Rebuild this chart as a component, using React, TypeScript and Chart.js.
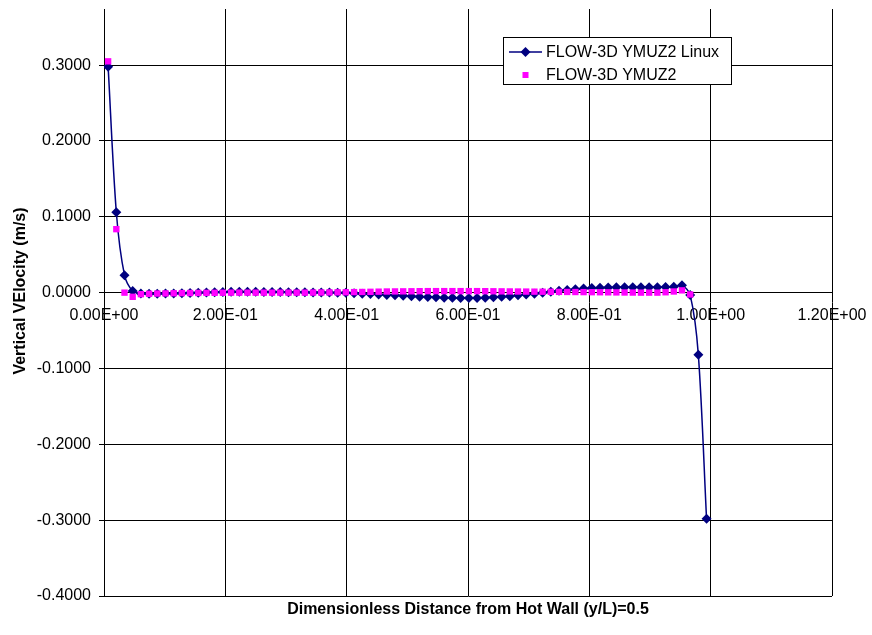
import { useEffect, useRef } from 'react';
import { Chart, registerables } from 'chart.js';

Chart.register(...registerables);

// Cell-centre positions y/L (74 cells)
const xPositions = [
  0.0068, 0.0203, 0.0338, 0.0473, 0.0608, 0.0743, 0.0878, 0.1014, 0.1149, 0.1284,
  0.1419, 0.1554, 0.1689, 0.1824, 0.1959, 0.2095, 0.2230, 0.2365, 0.2500, 0.2635,
  0.2770, 0.2905, 0.3041, 0.3176, 0.3311, 0.3446, 0.3581, 0.3716, 0.3851, 0.3986,
  0.4122, 0.4257, 0.4392, 0.4527, 0.4662, 0.4797, 0.4932, 0.5068, 0.5203, 0.5338,
  0.5473, 0.5608, 0.5743, 0.5878, 0.6014, 0.6149, 0.6284, 0.6419, 0.6554, 0.6689,
  0.6824, 0.6959, 0.7095, 0.7230, 0.7365, 0.7500, 0.7635, 0.7770, 0.7905, 0.8041,
  0.8176, 0.8311, 0.8446, 0.8581, 0.8716, 0.8851, 0.8986, 0.9122, 0.9257, 0.9392,
  0.9527, 0.9662, 0.9797, 0.9932,
];

// FLOW-3D YMUZ2 Linux (m/s)
const linuxValues = [
  0.298, 0.106, 0.023, 0.002,
  -0.0012, -0.0015, -0.0014, -0.0012, -0.001, -0.0007, -0.0004,
  0.0, 0.0003, 0.0006, 0.0009, 0.0011, 0.0012, 0.0012, 0.0011, 0.001, 0.0009,
  0.0008, 0.0006, 0.0005, 0.0004, 0.0003, 0.0002, 0.0001, 0.0,
  -0.0003, -0.0008, -0.0013, -0.0019, -0.0025, -0.003, -0.0036,
  -0.0042, -0.0048, -0.0053, -0.0058, -0.0062, -0.0066, -0.0069, -0.0071, -0.0071, -0.007,
  -0.0067, -0.0062, -0.0055, -0.0046, -0.0036,
  -0.0025, -0.0013, 0.0, 0.0012, 0.0024,
  0.0035, 0.0045, 0.0053, 0.006, 0.0065,
  0.0068, 0.007, 0.0071, 0.0072, 0.0072, 0.0072, 0.0072, 0.0073, 0.0078, 0.0099,
  -0.003, -0.082, -0.298,
];

// FLOW-3D YMUZ2 (m/s)
const ymuzValues = [
  0.305, 0.0837, 0.0, -0.0055,
  -0.002, -0.0015, -0.0012, -0.001, -0.0008, -0.0006, -0.0005,
  -0.0004, -0.0003, -0.0002, -0.0001, 0.0, 0.0, 0.0, 0.0, 0.0, 0.0,
  0.0, 0.0, 0.0, 0.0, 0.0001, 0.0002, 0.0003, 0.0004,
  0.0005, 0.0007, 0.0009, 0.0011, 0.0013, 0.0015, 0.0016,
  0.0017, 0.0018, 0.0019, 0.002, 0.002, 0.002, 0.002, 0.002, 0.002, 0.002,
  0.0019, 0.0018, 0.0017, 0.0016, 0.0015,
  0.0014, 0.0013, 0.0012, 0.0011, 0.001,
  0.0009, 0.0008, 0.0007, 0.0006, 0.0005,
  0.0004, 0.0003, 0.0002, 0.0001, 0.0, 0.0, 0.0, 0.0005, 0.0015,
  0.003, -0.0024,
];

const xTicks = [0, 0.2, 0.4, 0.6, 0.8, 1.0, 1.2];
const yTicks = [-0.4, -0.3, -0.2, -0.1, 0.0, 0.1, 0.2, 0.3];

const seriesNames = ['FLOW-3D YMUZ2 Linux', 'FLOW-3D YMUZ2'];
const xTitle = 'Dimensionless Distance from Hot Wall (y/L)=0.5';
const yTitle = 'Vertical VElocity (m/s)';

const NAVY = '#000080';
const MAGENTA = '#FF00FF';
const FONT = '"Liberation Sans", Arial, sans-serif';

function sci(v: number): string {
  const s = Number(v).toExponential(2);
  const [m, e] = s.split('e');
  const sign = e[0] === '-' ? '-' : '+';
  const d = e.replace(/[+-]/, '').padStart(2, '0');
  return m + 'E' + sign + d;
}

const decorPlugin = {
  id: 'decor',
  afterDraw(chart: any) {
    const ctx = chart.ctx as CanvasRenderingContext2D;
    const area = chart.chartArea;
    ctx.save();
    // axis titles
    ctx.fillStyle = '#000';
    ctx.font = `bold 16px ${FONT}`;
    ctx.textAlign = 'center';
    ctx.textBaseline = 'middle';
    ctx.fillText(xTitle, (area.left + area.right) / 2, 610);
    ctx.save();
    ctx.translate(21, 291);
    ctx.rotate(-Math.PI / 2);
    ctx.fillText(yTitle, 0, 0);
    ctx.restore();

    // legend box
    const bx = 503, by = 37, bw = 228, bh = 47;
    ctx.fillStyle = '#fff';
    ctx.fillRect(bx, by, bw, bh);
    ctx.strokeStyle = '#000';
    ctx.lineWidth = 1;
    ctx.strokeRect(bx + 0.5, by + 0.5, bw, bh);

    const r1 = 52, r2 = 75;
    // line sample
    ctx.strokeStyle = NAVY;
    ctx.lineWidth = 1.5;
    ctx.beginPath();
    ctx.moveTo(509, r1);
    ctx.lineTo(542, r1);
    ctx.stroke();
    ctx.fillStyle = NAVY;
    ctx.beginPath();
    ctx.moveTo(525.5, r1 - 5);
    ctx.lineTo(530.5, r1);
    ctx.lineTo(525.5, r1 + 5);
    ctx.lineTo(520.5, r1);
    ctx.closePath();
    ctx.fill();
    ctx.fillStyle = MAGENTA;
    ctx.fillRect(522.5, r2 - 3, 6, 6);

    ctx.fillStyle = '#000';
    ctx.font = `16px ${FONT}`;
    ctx.textAlign = 'left';
    ctx.textBaseline = 'middle';
    ctx.fillText(seriesNames[0], 546, r1 + 1);
    ctx.fillText(seriesNames[1], 546, r2 + 1);
    ctx.restore();
  },
};

export default function App() {
  const canvasRef = useRef<HTMLCanvasElement | null>(null);

  useEffect(() => {
    document.body.style.margin = '0';
    const canvas = canvasRef.current;
    if (!canvas) return;
    const chart = new Chart(canvas, {
      type: 'scatter',
      data: {
        datasets: [
          {
            label: seriesNames[0],
            data: linuxValues.map((v, i) => ({ x: xPositions[i], y: v })),
            showLine: true,
            borderColor: NAVY,
            backgroundColor: NAVY,
            borderWidth: 1.5,
            tension: 0.3,
            pointStyle: 'rectRot',
            pointRadius: 5,
            pointBorderWidth: 0,
            pointBackgroundColor: NAVY,
            order: 1,
          },
          {
            label: seriesNames[1],
            data: ymuzValues.map((v, i) => ({ x: xPositions[i], y: v })),
            showLine: false,
            borderColor: MAGENTA,
            backgroundColor: MAGENTA,
            pointStyle: 'rect',
            pointRadius: 4.5,
            pointBorderWidth: 0,
            pointBackgroundColor: MAGENTA,
            order: 0,
          },
        ],
      },
      options: {
        animation: false,
        responsive: true,
        maintainAspectRatio: false,
        layout: { padding: { top: 9, right: 40, bottom: 39, left: 0 } },
        plugins: {
          legend: { display: false },
          tooltip: { enabled: false },
        },
        scales: {
          x: {
            type: 'linear',
            position: { y: 0 } as any,
            min: 0,
            max: 1.2,
            afterBuildTicks: (scale: any) => {
              scale.ticks = xTicks.map((v) => ({ value: v }));
            },
            afterFit: (scale: any) => {
              scale.paddingLeft = 0;
              scale.paddingRight = 0;
              scale.paddingTop = 0;
              scale.paddingBottom = 0;
            },
            ticks: {
              callback: (v: any) => sci(Number(v)),
              color: '#000',
              font: { family: FONT, size: 16 },
              padding: 13,
              maxRotation: 0,
              autoSkip: false,
            },
            grid: { color: '#000', lineWidth: 1, drawTicks: false },
            border: { display: true, color: '#000' },
          },
          y: {
            type: 'linear',
            min: -0.4,
            max: 0.374,
            afterBuildTicks: (scale: any) => {
              scale.ticks = yTicks.map((v) => ({ value: v }));
            },
            afterFit: (scale: any) => {
              scale.width = 104;
              scale.paddingTop = 0;
              scale.paddingBottom = 0;
              scale.paddingLeft = 0;
              scale.paddingRight = 0;
            },
            ticks: {
              callback: (v: any) => Number(v).toFixed(4),
              color: '#000',
              font: { family: FONT, size: 16 },
              padding: 8,
              autoSkip: false,
            },
            grid: { color: '#000', lineWidth: 1, drawTicks: true, tickLength: 5 },
            border: { display: true, color: '#000' },
          },
        },
      },
      plugins: [decorPlugin],
    });
    return () => chart.destroy();
  }, []);

  return (
    <div style={{ width: 872, height: 635, position: 'relative', background: '#fff' }}>
      <canvas ref={canvasRef} />
    </div>
  );
}
